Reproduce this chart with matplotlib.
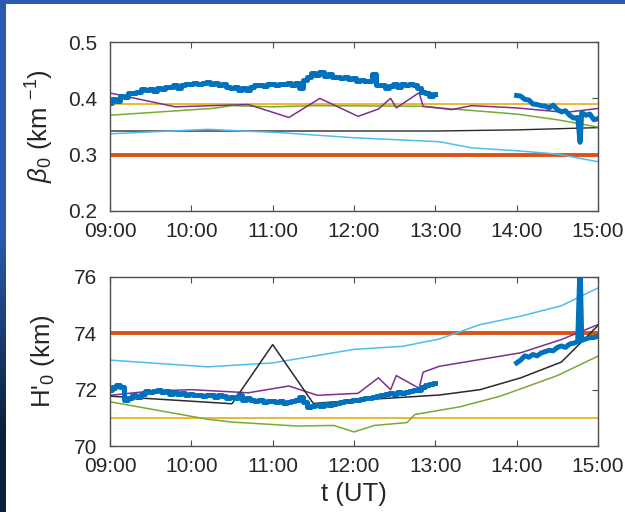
import numpy as np
import matplotlib
matplotlib.use("Agg")
import matplotlib.pyplot as plt
from matplotlib.ticker import MultipleLocator

plt.rcParams['font.family'] = ['Liberation Sans', 'DejaVu Sans']
plt.rcParams['mathtext.fontset'] = 'custom'
plt.rcParams['mathtext.rm'] = 'Liberation Sans'
plt.rcParams['mathtext.it'] = 'Liberation Sans:italic'

# MATLAB default colour order
C_BLUE = '#0072BD'
C_RED = '#D95319'
C_YEL = '#EDB120'
C_PUR = '#7E2F8E'
C_GRN = '#77AC30'
C_CYAN = '#4DBEEE'
C_BLK = '#2a2a2a'

# ---------------- beta_0 (km^-1) ----------------
beta_obs_t1 = np.arange(9.0, 13.0001, 0.05)  # 3-min samples
beta_obs_v1 = [0.392, 0.398, 0.396, 0.404, 0.403, 0.410, 0.409, 0.411, 0.416, 0.415,
               0.417, 0.413, 0.418, 0.416, 0.421, 0.420, 0.424, 0.418, 0.424, 0.426,
               0.425, 0.428, 0.426, 0.427, 0.429, 0.426, 0.427, 0.424, 0.425, 0.420,
               0.418, 0.421, 0.414, 0.419, 0.415, 0.421, 0.423, 0.424, 0.422, 0.425,
               0.425, 0.424, 0.426, 0.425, 0.428, 0.424, 0.427, 0.418, 0.432, 0.438,
               0.445, 0.441, 0.446, 0.440, 0.444, 0.437, 0.438, 0.436, 0.438, 0.434,
               0.436, 0.430, 0.432, 0.430, 0.431, 0.444, 0.424, 0.423, 0.418, 0.422,
               0.425, 0.420, 0.426, 0.423, 0.426, 0.424, 0.418, 0.412, 0.410, 0.405,
               0.408]
beta_obs_t2 = [14.0, 14.05, 14.1, 14.15, 14.2, 14.25, 14.3, 14.35, 14.4, 14.45,
               14.5, 14.55, 14.6, 14.65, 14.7, 14.75, 14.78, 14.8, 14.85, 14.9,
               14.95, 15.0]
beta_obs_v2 = [0.405, 0.404, 0.398, 0.397, 0.390, 0.389, 0.387, 0.386, 0.383, 0.388,
               0.380, 0.376, 0.378, 0.370, 0.365, 0.366, 0.322, 0.375, 0.370, 0.372,
               0.362, 0.364]

beta_ref = 0.30
beta_yel = 0.39
beta_blk_t = [9.0, 11.0, 13.0, 14.0, 15.0]
beta_blk_v = [0.342, 0.342, 0.342, 0.344, 0.348]
beta_cyan_t = [9.0, 10.2, 11.1, 12.0, 13.05, 13.45, 14.0, 14.5, 15.0]
beta_cyan_v = [0.337, 0.345, 0.339, 0.330, 0.323, 0.312, 0.307, 0.301, 0.2875]
beta_grn_t = [9.0, 10.25, 10.5, 11.0, 11.5, 12.8, 14.0, 14.5, 15.0]
beta_grn_v = [0.370, 0.382, 0.387, 0.385, 0.387, 0.386, 0.372, 0.362, 0.349]
beta_pur_t = [9.0, 9.8, 10.7, 11.2, 11.58, 12.05, 12.3, 12.45, 12.52, 12.8, 12.85,
              13.2, 13.45, 14.0, 14.6, 15.0]
beta_pur_v = [0.4095, 0.385, 0.389, 0.366, 0.400, 0.368, 0.381, 0.400, 0.383, 0.410,
              0.386, 0.380, 0.387, 0.383, 0.375, 0.382]

# ---------------- H'_0 (km) ----------------
h_obs_t1 = np.arange(9.0, 13.0001, 0.05)
h_obs_v1 = [72.00, 72.10, 72.15, 72.10, 71.65, 71.70, 71.80, 71.75, 71.85, 71.95,
            71.90, 71.95, 71.98, 71.90, 71.95, 71.85, 71.90, 71.85, 71.88, 71.80,
            71.85, 71.80, 71.82, 71.78, 71.80, 71.82, 71.75, 71.80, 71.78, 71.72,
            71.75, 71.70, 71.80, 71.65, 71.70, 71.62, 71.58, 71.62, 71.55, 71.60,
            71.58, 71.55, 71.60, 71.52, 71.55, 71.58, 71.62, 71.75, 71.55, 71.40,
            71.42, 71.45, 71.42, 71.48, 71.45, 71.50, 71.52, 71.55, 71.60, 71.58,
            71.62, 71.65, 71.68, 71.70, 71.72, 71.75, 71.78, 71.82, 71.85, 71.88,
            71.85, 71.90, 71.88, 71.92, 71.95, 71.98, 72.00, 72.10, 72.15, 72.20,
            72.25]
h_obs_t2 = beta_obs_t2
h_obs_v2 = [72.95, 73.05, 73.20, 73.15, 73.25, 73.20, 73.30, 73.35, 73.40, 73.38,
            73.50, 73.55, 73.50, 73.62, 73.65, 73.70, 76.50, 73.75, 73.80, 73.85,
            73.85, 73.90]

h_ref = 74.0
h_yel = 71.0
h_cyan_t = [9.0, 10.2, 11.0, 12.0, 12.6, 13.05, 13.55, 14.05, 14.55, 15.0]
h_cyan_v = [73.05, 72.81, 72.95, 73.43, 73.54, 73.80, 74.31, 74.61, 74.98, 75.61]
h_pur_t = [9.0, 9.5, 10.0, 10.7, 11.2, 11.55, 12.05, 12.3, 12.45, 12.52, 12.8, 12.85,
           13.05, 13.55, 14.05, 14.55, 15.0]
h_pur_v = [71.80, 71.95, 72.00, 71.89, 72.13, 71.80, 71.87, 72.42, 72.00, 72.50,
           72.05, 72.62, 72.83, 73.07, 73.31, 73.78, 74.31]
h_blk_t = [9.0, 10.5, 11.0, 11.5, 12.05, 13.05, 13.55, 14.05, 14.55, 15.0]
h_blk_v = [71.77, 71.50, 73.60, 71.51, 71.63, 71.81, 72.00, 72.42, 72.98, 74.28]
h_grn_t = [9.0, 10.2, 10.5, 11.3, 11.75, 12.0, 12.25, 12.65, 12.75, 13.3, 13.8,
           14.5, 15.0]
h_grn_v = [71.57, 70.95, 70.85, 70.71, 70.73, 70.50, 70.73, 70.83, 71.12, 71.39,
           71.77, 72.50, 73.19]

xticks = [9, 10, 11, 12, 13, 14, 15]
xticklabels = ['09:00', '10:00', '11:00', '12:00', '13:00', '14:00', '15:00']

W, H = 625, 512
fig = plt.figure(figsize=(W / 100, H / 100), dpi=100, facecolor='white')

# slide background peeking along the left and top edges
bg = fig.add_axes([0, 0, 1, 1], zorder=-10)
bg.set_axis_off()
grad = np.linspace(0, 1, 256)[:, None]
top_c = np.array([0.17, 0.36, 0.68])
bot_c = np.array([0.05, 0.12, 0.22])
mix = np.clip((grad - 0.45) / 0.4, 0, 1)[:, :, None]
left_cols = top_c * (1 - mix) + bot_c * mix
bg.imshow(left_cols, extent=[0, 6, 0, H], aspect='auto', origin='upper')
bg.add_patch(plt.Rectangle((0, H - 4), W, 4, color=top_c, lw=0))
bg.set_xlim(0, W)
bg.set_ylim(0, H)

FRAME = '#4d4d4d'
TXT = '#262626'


def style(ax, ylim, ystep):
    ax.set_xlim(9, 15)
    ax.set_ylim(*ylim)
    ax.set_xticks(xticks)
    ax.set_xticklabels(xticklabels)
    ax.yaxis.set_major_locator(MultipleLocator(ystep))
    ax.tick_params(direction='in', top=True, right=True, length=4.5, width=0.8,
                   color=FRAME, labelcolor=TXT, labelsize=15)
    ax.tick_params(axis='x', pad=8)
    ax.tick_params(axis='y', pad=9)
    for s in ax.spines.values():
        s.set_color(FRAME)
        s.set_linewidth(1.0)


ax1 = fig.add_axes([110 / W, 1 - 211 / H, 488 / W, 169 / H])
ax1.axhline(beta_ref, color=C_RED, lw=2.8)
ax1.axhline(beta_yel, color=C_YEL, lw=1.3)
ax1.plot(beta_blk_t, beta_blk_v, color=C_BLK, lw=1.0)
ax1.plot(beta_cyan_t, beta_cyan_v, color=C_CYAN, lw=1.1)
ax1.plot(beta_grn_t, beta_grn_v, color=C_GRN, lw=1.1)
ax1.plot(beta_pur_t, beta_pur_v, color=C_PUR, lw=1.1)
ax1.plot(beta_obs_t1, beta_obs_v1, color=C_BLUE, lw=3.6, drawstyle='steps-mid')
ax1.plot(beta_obs_t2, beta_obs_v2, color=C_BLUE, lw=3.6)
style(ax1, (0.2, 0.5), 0.1)
ax1.set_ylabel(r'$\beta_0$ (km $^{-1}$)', fontsize=18.5, color=TXT, labelpad=9)

ax2 = fig.add_axes([110 / W, 1 - 446 / H, 488 / W, 169 / H])
ax2.axhline(h_ref, color=C_RED, lw=2.8)
ax2.axhline(h_yel, color=C_YEL, lw=1.3)
ax2.plot(h_cyan_t, h_cyan_v, color=C_CYAN, lw=1.1)
ax2.plot(h_grn_t, h_grn_v, color=C_GRN, lw=1.1)
ax2.plot(h_pur_t, h_pur_v, color=C_PUR, lw=1.1)
ax2.plot(h_blk_t, h_blk_v, color=C_BLK, lw=1.1)
ax2.plot(h_obs_t1, h_obs_v1, color=C_BLUE, lw=3.6, drawstyle='steps-mid')
ax2.plot(h_obs_t2, h_obs_v2, color=C_BLUE, lw=3.6)
style(ax2, (70, 76), 2)
ax2.set_ylabel(r"H'$_0$ (km)", fontsize=18.5, color=TXT, labelpad=12)
ax2.set_xlabel('t (UT)', fontsize=18.5, color=TXT, labelpad=4)

fig.savefig('out.png', dpi=100, facecolor='white')
